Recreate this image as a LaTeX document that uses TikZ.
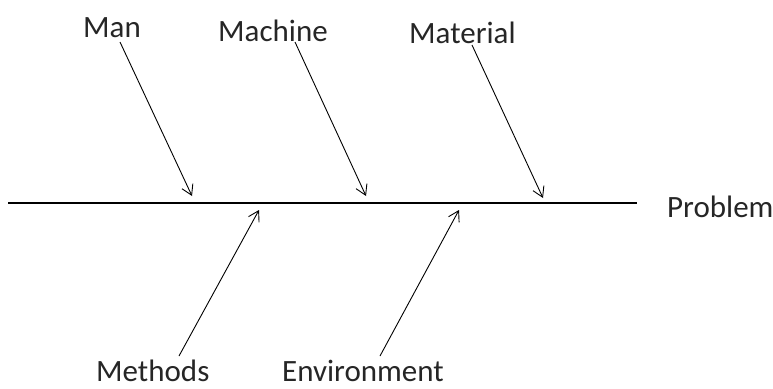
\documentclass[tikz,border=0pt]{standalone}
\usepackage{fontspec}
\setmainfont{Carlito}
\usetikzlibrary{arrows.meta}
\begin{document}
\begin{tikzpicture}[x=1pt,y=-1pt,
  lbl/.style={anchor=base west,inner sep=0pt,font=\fontsize{31}{31}\selectfont,text=black!85},
  cause/.style={line width=0.9pt,-{Straight Barb[length=10pt,width=12pt,line width=0.9pt]}},
  spine/.style={line width=2.2pt}]
\useasboundingbox (0,0) rectangle (773,388);
% category labels
\node[lbl] (man) at (83,37) {Man};
\node[lbl] (machine) at (218,41) {Machine};
\node[lbl] (material) at (409,43) {Material};
\node[lbl] (methods) at (96,381) {Methods};
\node[lbl] (environment) at (282,381) {Environment};
\node[lbl] (problem) at (667,217) {Problem};
% spine ends
\coordinate (s0) at (8,203);
\coordinate (s1) at (637,203);
\draw[spine] (s0) -- (s1);
% cause arrows
\coordinate (a1) at (120,42);  \coordinate (b1) at (192,196);
\coordinate (a2) at (295,42);  \coordinate (b2) at (366,196);
\coordinate (a3) at (472,45);  \coordinate (b3) at (543,198);
\coordinate (a4) at (179,356); \coordinate (b4) at (259,210);
\coordinate (a5) at (380,356); \coordinate (b5) at (459,210);
\draw[cause] (a1) -- (b1);
\draw[cause] (a2) -- (b2);
\draw[cause] (a3) -- (b3);
\draw[cause] (a4) -- (b4);
\draw[cause] (a5) -- (b5);
\end{tikzpicture}
\end{document}
